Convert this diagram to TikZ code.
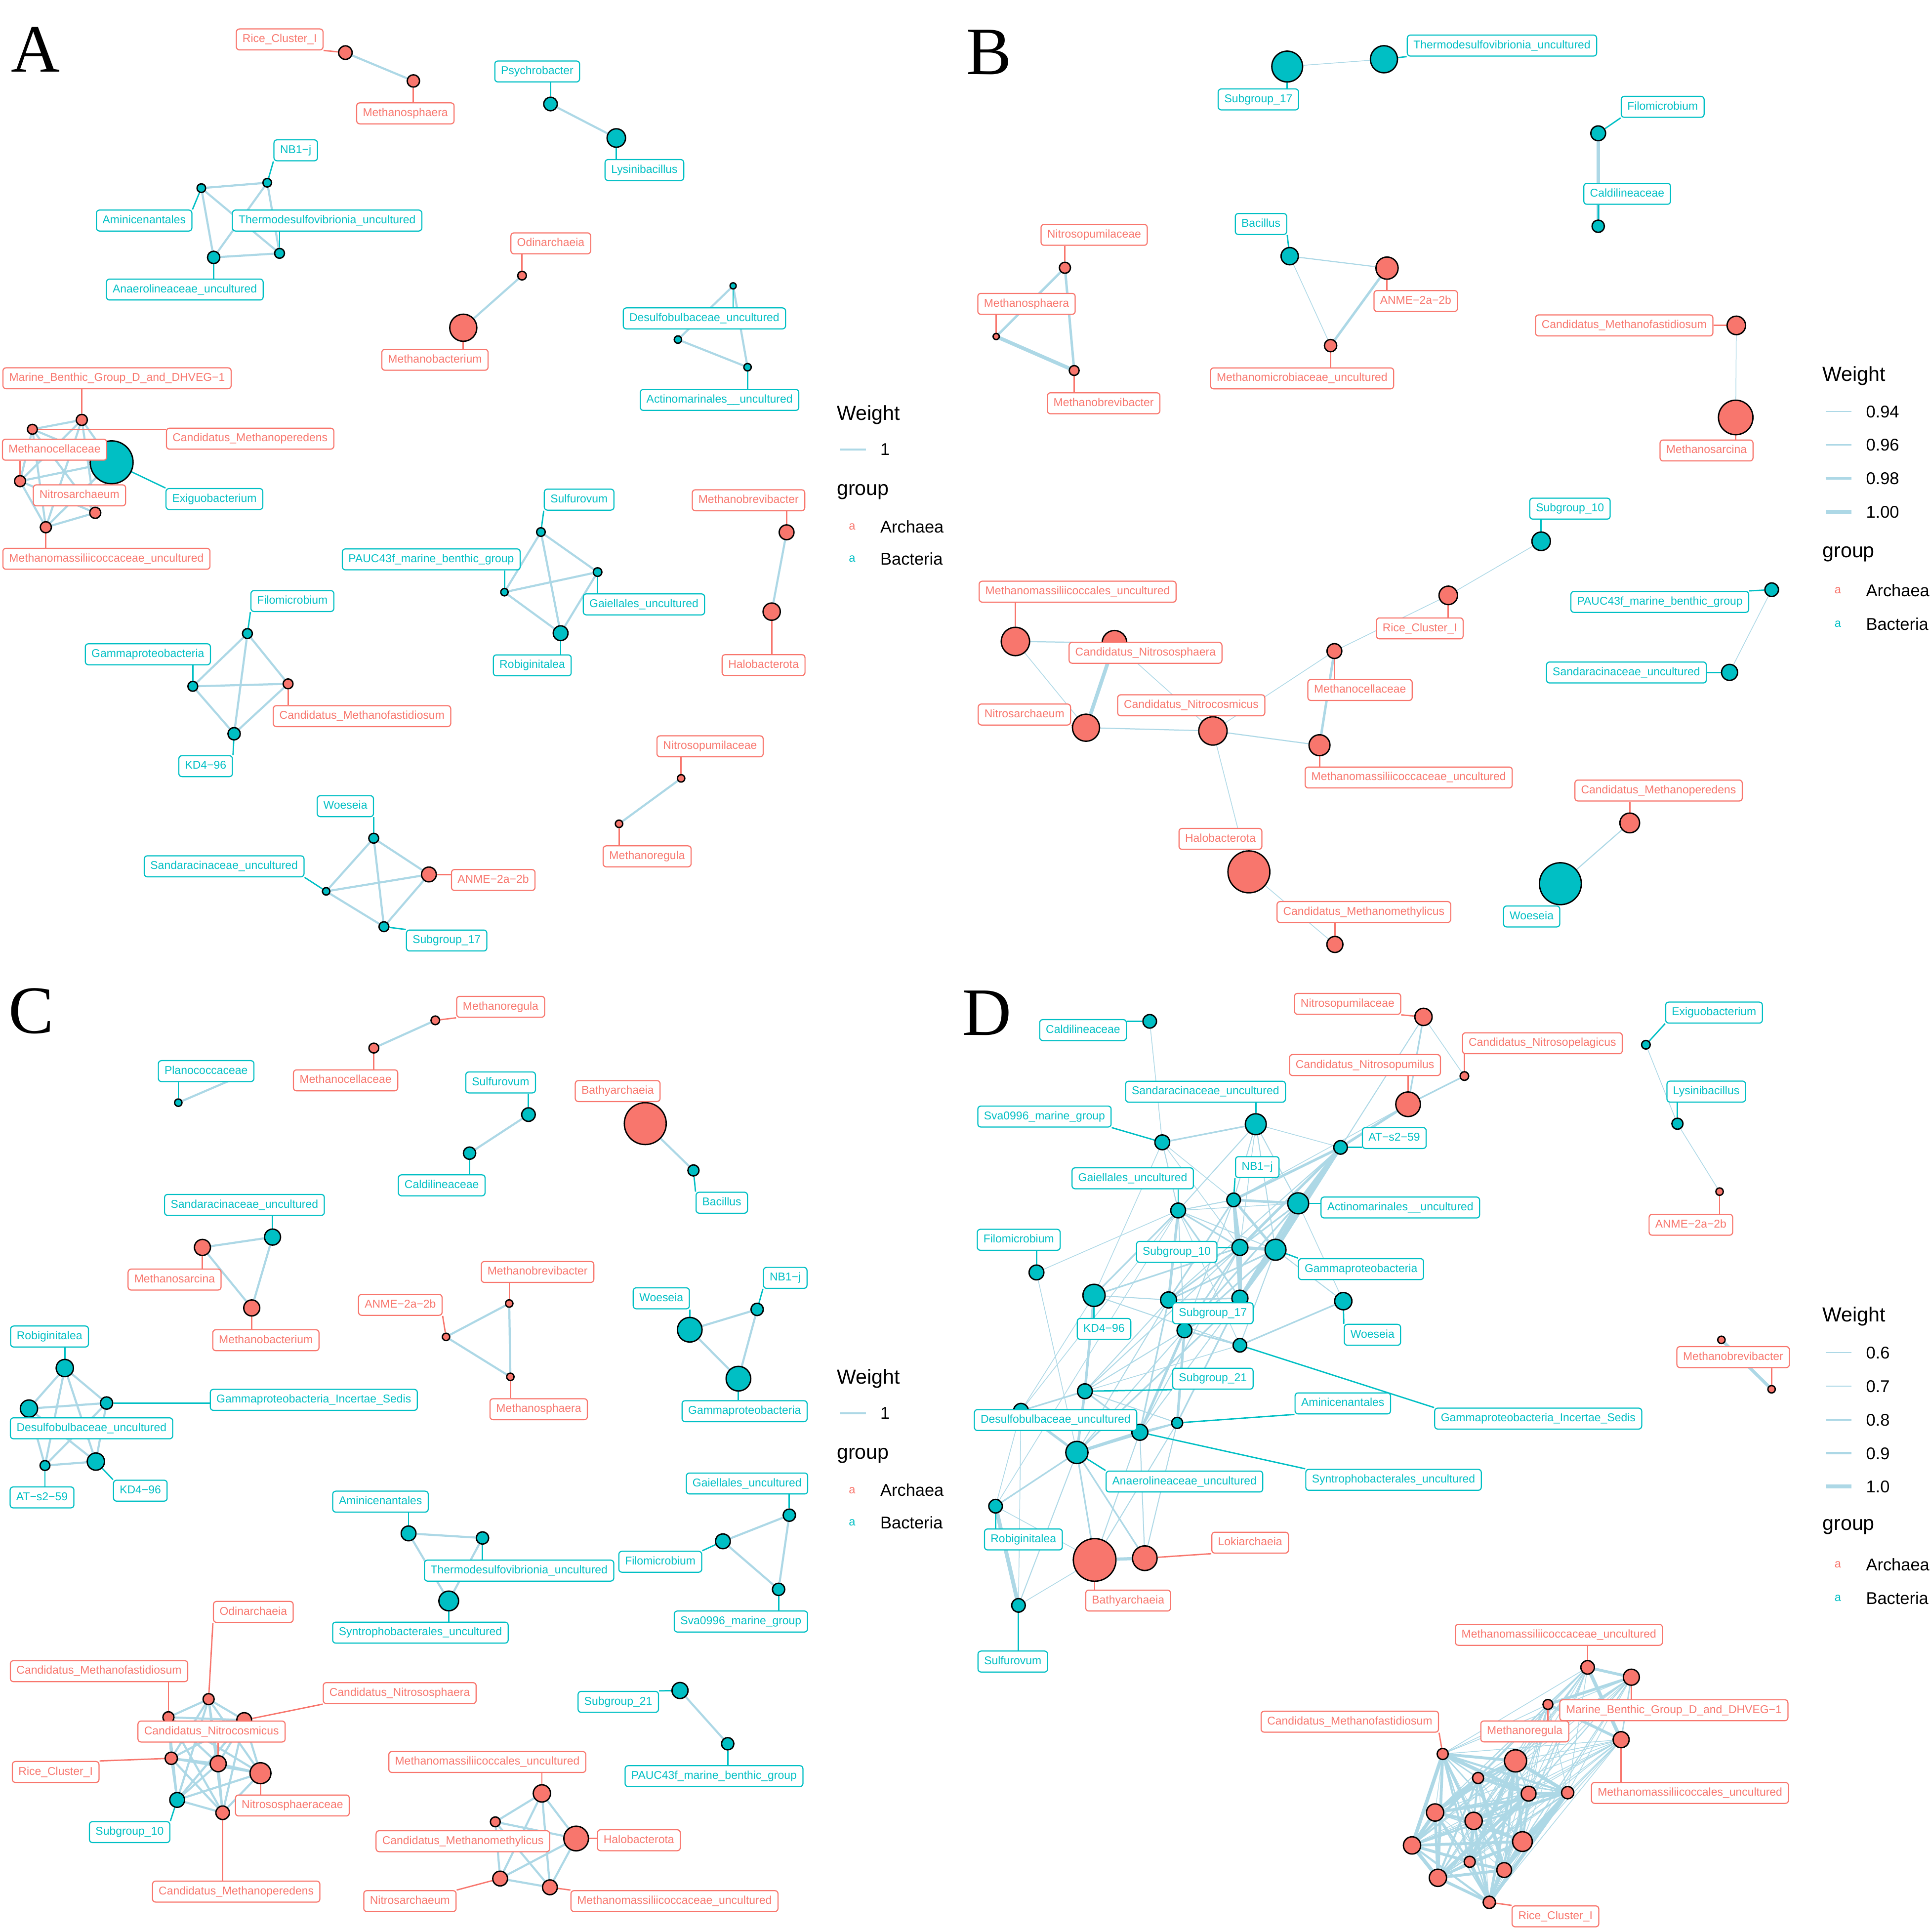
\documentclass[tikz,border=0pt]{standalone}
\usepackage{fontspec}
\setmainfont{Liberation Sans}
\newfontfamily\panelfont{Liberation Serif}
\usetikzlibrary{calc}

\definecolor{archred}{HTML}{F8766D}
\definecolor{bactteal}{HTML}{00BFC4}
\definecolor{edgeblue}{HTML}{ADD8E6}
\newcommand{\labfont}{\fontsize{9.2}{10}\selectfont}

\pgfdeclarelayer{links}
\pgfdeclarelayer{tags}
\pgfsetlayers{links,main,tags}

% every pair of a group gets a link
\newcommand{\fullmesh}[2][1.7pt]{\foreach \na [count=\i] in {#2}{\foreach \nb [count=\j] in {#2}{\ifnum\j>\i\relax\draw[link=#1] (\na) -- (\nb);\fi}}}
% label segment: from the node to the nearest point of its label box
\newcommand{\tagline}[3]{\draw[#1] let \p1=(#2.center), \p2=(#3.south west), \p3=(#3.north east), \n1={min(max(\x1,\x2),\x3)}, \n2={min(max(\y1,\y2),\y3)} in (#2) -- (\n1,\n2);}

\begin{document}
\begin{tikzpicture}[x=1pt,y=-1pt,
  anode/.style={circle,draw=black,line width=1.1pt,fill=archred,inner sep=0pt},
  bnode/.style={circle,draw=black,line width=1.1pt,fill=bactteal,inner sep=0pt},
  tag/.style={fill=white,rounded corners=2.5pt,line width=0.9pt,inner xsep=5pt,inner ysep=4.2pt,text height=6.7pt,text depth=1.9pt,font=\labfont},
  atag/.style={tag,draw=archred,text=archred},
  btag/.style={tag,draw=bactteal,text=bactteal},
  alead/.style={draw=archred,line width=1.1pt},
  blead/.style={draw=bactteal,line width=1.1pt},
  link/.style={draw=edgeblue,line width=#1},
  link/.default=1.7pt,
  legtitle/.style={anchor=base west,inner sep=0pt,font=\fontsize{16.5}{18}\selectfont},
  legtext/.style={anchor=base west,inner sep=0pt,font=\fontsize{13.8}{16}\selectfont},
  legkey/.style={anchor=base,inner sep=0pt,font=\fontsize{9.5}{10}\selectfont},
  panel/.style={anchor=base west,inner sep=0pt,font=\panelfont\fontsize{55}{60}\selectfont}]
\useasboundingbox (0,0) rectangle (1566,1568);

%% ---------------- nodes
% A
\foreach \nm/\x/\y/\r in {aRC/280.3/42.7/5.5, aMsph/335.5/65.7/5, aOdi/423.7/223.7/3.5, aMbac/376/266/11,
  aMar/66.4/340.8/4.5, aCMp/26.3/348.4/4, aMcel/16.3/390.5/4.5, aNsa/77.3/416.2/4.5, aMmc/37.2/427.9/4.5,
  aMbv/638.4/432/6, aHal/626.3/496.4/7, aCMf/233.8/555/4, aANM/348.1/709.7/6, aNtp/552.8/631.7/3, aMre/502.4/668.6/3}
  \node[anode,minimum size=2*\r pt] (\nm) at (\x,\y) {};
\foreach \nm/\x/\y/\r in {aPsy/446.8/84.4/5.5, aLys/500.2/112/7.5, aAmi/163.4/152.7/3.5, aNB/216.9/148.3/3.5,
  aAna/173.4/208.9/5, aThe/226.9/205.6/4, aDes/595/232/2.5, aDx/550.2/275.6/3, aAct/606.7/298/3,
  aExi/90.6/375.2/17.4, aSul/439/431.8/3.5, aPAU/409.4/480.6/3, aGai/485/464.3/3.5, aRob/455/513.9/6,
  aFil/200.8/514.2/4, aGam/156.5/557/4, aKD/190/595.5/5, aWoe/303.3/680.3/4, aSan/264.7/723.4/3, aS17/311.6/752.1/4}
  \node[bnode,minimum size=2*\r pt] (\nm) at (\x,\y) {};
% B
\foreach \nm/\x/\y/\r in {bNtp/864.3/217.3/4.5, bMsph/808.5/273.1/2.5, bMbv/871.8/300.7/4, bANM/1125.7/217.6/9,
  bMmb/1079.9/280.5/5, bCMf/1409.2/264.1/7.5, bMsar/1408.7/338.8/14, bRC/1175.4/483.2/7.5, bMcel/1083/528.4/6,
  bMmc/824.1/520.6/11.5, bCNs/904.5/521.7/10, bNsa/881.4/590.6/11, bCNc/984.4/593.2/11.5, bMmcc/1070.9/604.8/8.5,
  bHal/1013.6/707.6/17, bCMm/1083.4/766.5/6.5, bCMp/1322.7/667.9/8}
  \node[anode,minimum size=2*\r pt] (\nm) at (\x,\y) {};
\foreach \nm/\x/\y/\r in {bS17/1044.7/54/12.5, bThe/1123.2/48.1/11, bFil/1297.1/108.2/6, bCal/1297.1/183.6/5,
  bBac/1046.7/207.9/7, bS10/1250.8/439.3/7.5, bPAU/1437.9/478.6/5.5, bSan/1403.7/545.7/6.5, bWoe/1266.4/717.2/17}
  \node[bnode,minimum size=2*\r pt] (\nm) at (\x,\y) {};
% C
\foreach \nm/\x/\y/\r in {cMre/353.3/828.1/3.5, cMcel/303.4/850.6/4, cBat/523.7/911.9/17, cMsar/164.3/1012.4/6.5,
  cMbac/204.3/1061.5/6.5, cMbv/413.3/1057.9/3, cANM/362/1085/3, cMsph/414.2/1117.4/3, cOdi/169.3/1379/4.5,
  cCMf/136.7/1393.7/4.5, cCNs/198.2/1396/6, cRC/139/1427/5, cCNc/177.1/1431.4/6.5, cNsp/211.4/1439.1/8.5,
  cCMp/180.7/1471.2/5.5, cMmc/439.8/1455.5/7, cCMm/402/1478.6/4, cHal/467.6/1492.1/10, cNsa/405.9/1524.6/6,
  cMmcc/446.3/1531.7/6}
  \node[anode,minimum size=2*\r pt] (\nm) at (\x,\y) {};
\foreach \nm/\x/\y/\r in {cPla/144.7/894.9/3, cSul/428.9/904.6/5.5, cCal/381.1/935.9/5, cBac/562.8/949.9/4.5,
  cSan/221.2/1004/6.5, cWoe/559.8/1079.2/10, cNB/614.5/1062.7/5, cGam/599.3/1118.9/10, cRob/52.6/1110.3/7,
  cDes/23.5/1143.2/7, cGIS/86.5/1138.7/5, cAT/36.5/1189.4/4, cKD/77.8/1186.2/7, cAmi/331.6/1244.5/6,
  cThe/391.6/1248.2/5, cSyn/364.2/1299.3/8, cFil/586.7/1250.9/6, cGai/640.6/1229.7/5, cSva/631.9/1289.9/5,
  cS21/551.9/1372/6.5, cPAU/590.6/1415.2/5, cS10/143.8/1460.8/6}
  \node[bnode,minimum size=2*\r pt] (\nm) at (\x,\y) {};
\coordinate (cPlx) at (198,872);
% D
\foreach \nm/\x/\y/\r in {dNtp/1155.3/825.3/7, dCNp/1188.5/873.3/3.5, dCNu/1142.8/896.2/10, dBat/888.4/1266/17.3,
  dLok/929.1/1264.6/10, dANM/1395.6/967.1/3, dMb1/1397.1/1087.4/3, dMb2/1437.8/1127.5/3,
  dE1/1288.5/1353.2/5.5, dE2/1324/1361.2/6.5, dE3/1256.3/1383.3/4, dE4/1315.7/1411.9/6.5, dE5/1170.9/1423.5/4.5,
  dE6/1230/1429.1/9, dE7/1199.6/1443/4.5, dE8/1240.6/1455.7/6, dE9/1272.3/1454.9/5, dE10/1164.7/1471/7,
  dE11/1196/1477.8/7, dE12/1235.6/1494.6/8, dE13/1146/1497.7/7, dE14/1192.8/1511/4.5, dE15/1220.8/1517.7/6,
  dE16/1167/1524/7, dE17/1208.7/1543.9/5}
  \node[anode,minimum size=2*\r pt] (\nm) at (\x,\y) {};
\foreach \nm/\x/\y/\r in {dCal/933.1/828.9/5.5, dSan/1019.2/912.4/8.5, dSva/943.3/927.1/6, dAT/1088/931.2/5.5,
  dGai/956.2/982.4/6, dNB/1001.2/973.8/5.5, dAct/1053.6/976.6/8.5, dFil/841.2/1032.7/6, dS10/1006.3/1012.4/6.5,
  dGam/1035.2/1014.3/8.5, dKD/887.9/1051.3/9, dX1/948.4/1055/6.5, dS17/1006.3/1053.6/6.5, dX2/961.3/1079.7/6,
  dWoe/1090.2/1056/7, dGIS/1006.3/1091.8/5.5, dS21/880.5/1129.1/6, dAmi/955.4/1154.8/4.5, dDes/828.6/1145/6,
  dSyn/925.1/1162.4/6.5, dAna/874/1178.8/9, dRob/808/1222.4/5.5, dSul/826.6/1302.9/5.5, dExi/1335.8/847.9/3.5,
  dLys/1361.4/912/4.5}
  \node[bnode,minimum size=2*\r pt] (\nm) at (\x,\y) {};

%% ---------------- labels
\begin{pgfonlayer}{tags}
\foreach \nm/\x/\y/\txt in {aRCl/227/32/Rice\_Cluster\_I, aMsphl/329/92/Methanosphaera, aOdil/447/197.5/Odinarchaeia,
  aMbacl/353/292/Methanobacterium, aMarl/95/307/Marine\_Benthic\_Group\_D\_and\_DHVEG−1,
  aCMpl/203/356/Candidatus\_Methanoperedens, aMcell/44.3/365/Methanocellaceae, aNsal/64.5/402/Nitrosarchaeum,
  aMmcl/86.4/453.5/Methanomassiliicoccaceae\_uncultured, aMbvl/607.5/406/Methanobrevibacter,
  aHall/619.7/539.8/Halobacterota, aCMfl/293.8/581.2/Candidatus\_Methanofastidiosum, aANMl/400.3/714.2/ANME−2a−2b,
  aNtpl/576.3/605.7/Nitrosopumilaceae, aMrel/525.2/695/Methanoregula,
  bNtpl/888/190.6/Nitrosopumilaceae, bMsphl/833.1/246.6/Methanosphaera, bMbvl/895.7/327.3/Methanobrevibacter,
  bANMl/1149/244.3/ANME−2a−2b, bMmbl/1056.8/307.1/Methanomicrobiaceae\_uncultured,
  bCMfl/1318.2/264.1/Candidatus\_Methanofastidiosum, bMsarl/1385/365.6/Methanosarcina, bRCl/1152.3/510/Rice\_Cluster\_I,
  bMcell/1103.8/560/Methanocellaceae, bMmcl/874.6/480.2/Methanomassiliicoccales\_uncultured,
  bCNsl/929.7/529.8/Candidatus\_Nitrososphaera, bNsal/831.4/579.9/Nitrosarchaeum,
  bCNcl/966.8/572.4/Candidatus\_Nitrocosmicus, bMmccl/1143.3/631/Methanomassiliicoccaceae\_uncultured,
  bHall/990.5/680.8/Halobacterota, bCMml/1106.9/740.2/Candidatus\_Methanomethylicus,
  bCMpl/1346.1/641.6/Candidatus\_Methanoperedens,
  cMrel/406.3/817.1/Methanoregula, cMcell/280.5/876.8/Methanocellaceae, cBatl/501.3/885.5/Bathyarchaeia,
  cMsarl/141.7/1038.5/Methanosarcina, cMbacl/215.8/1087.7/Methanobacterium, cMbvl/436.3/1032.3/Methanobrevibacter,
  cANMl/324.9/1059/ANME−2a−2b, cMsphl/437.2/1143.7/Methanosphaera, cOdil/205.6/1308.2/Odinarchaeia,
  cCMfl/80.4/1356.3/Candidatus\_Methanofastidiosum, cCNsl/324.4/1374.1/Candidatus\_Nitrososphaera,
  cCNcl/171.7/1405.3/Candidatus\_Nitrocosmicus, cRCl/45.2/1438.1/Rice\_Cluster\_I, cNspl/237.3/1465.3/Nitrososphaeraceae,
  cCMpl/191.7/1535.2/Candidatus\_Methanoperedens, cMmcl/395.5/1430/Methanomassiliicoccales\_uncultured,
  cCMml/375.7/1494.3/Candidatus\_Methanomethylicus, cHall/518.5/1493.5/Halobacterota, cNsal/332.7/1542.9/Nitrosarchaeum,
  cMmccl/547.4/1542.9/Methanomassiliicoccaceae\_uncultured,
  dNtpl/1093.7/814.7/Nitrosopumilaceae, dCNpl/1251.8/846.7/Candidatus\_Nitrosopelagicus,
  dCNul/1107.8/864.4/Candidatus\_Nitrosopumilus, dBatl/915.6/1299/Bathyarchaeia, dLokl/1014.6/1252/Lokiarchaeia,
  dANMl/1372.3/994/ANME−2a−2b, dMbl/1406.6/1101.4/Methanobrevibacter,
  dE1l/1265.2/1326.8/Methanomassiliicoccaceae\_uncultured, dE2l/1358.5/1388/Marine\_Benthic\_Group\_D\_and\_DHVEG−1,
  dE5l/1095.5/1397.3/Candidatus\_Methanofastidiosum, dE3l/1237.5/1405.2/Methanoregula,
  dE4l/1371.6/1455.1/Methanomassiliicoccales\_uncultured, dE17l/1262.4/1555.3/Rice\_Cluster\_I}
  \node[atag] (\nm) at (\x,\y) {\txt};
\foreach \nm/\x/\y/\txt in {aPsyl/436/58/Psychrobacter, aLysl/523/138/Lysinibacillus, aNBl/240/122/NB1−j,
  aAmil/117/179/Aminicenantales, aThel/265.5/179/Thermodesulfovibrionia\_uncultured,
  aAnal/150/235/Anaerolineaceae\_uncultured, aDesl/571.7/258.4/Desulfobulbaceae\_uncultured,
  aActl/584/324.6/Actinomarinales\_\_uncultured, aExil/174/405/Exiguobacterium, aSull/470/405.5/Sulfurovum,
  aPAUl/350/454/PAUC43f\_marine\_benthic\_group, aGail/522.6/490.5/Gaiellales\_uncultured, aRobl/432/540/Robiginitalea,
  aFill/237.3/487.8/Filomicrobium, aGaml/120/531/Gammaproteobacteria, aKDl/166.9/621.8/KD4−96,
  aWoel/280.3/654.3/Woeseia, aSanl/181.9/703.1/Sandaracinaceae\_uncultured, aS17l/362.5/763.3/Subgroup\_17,
  bS17l/1021.3/80.7/Subgroup\_17, bThel/1219/37/Thermodesulfovibrionia\_uncultured, bFill/1349.4/86.7/Filomicrobium,
  bCall/1320.6/157.3/Caldilineaceae, bBacl/1023.4/181.8/Bacillus, bS10l/1274.2/412.8/Subgroup\_10,
  bPAUl/1347.1/488.5/PAUC43f\_marine\_benthic\_group, bSanl/1320/545.8/Sandaracinaceae\_uncultured,
  bWoel/1243.1/743.8/Woeseia,
  cPlal/167.3/869.3/Planococcaceae, cSull/406.3/878.5/Sulfurovum, cCall/358.5/962/Caldilineaceae,
  cBacl/585.8/976.1/Bacillus, cSanl/198.4/977.9/Sandaracinaceae\_uncultured, cWoel/536.7/1053.7/Woeseia,
  cNBl/637.3/1037.1/NB1−j, cGaml/604.3/1145.3/Gammaproteobacteria, cRobl/40.2/1084.7/Robiginitalea,
  cGISl/254.7/1136.1/Gammaproteobacteria\_Incertae\_Sedis, cDesl/74.3/1159.2/Desulfobulbaceae\_uncultured,
  cATl/34.1/1215.3/AT−s2−59, cKDl/113.9/1209.8/KD4−96, cAmil/308.8/1218.7/Aminicenantales,
  cThel/421.3/1274.7/Thermodesulfovibrionia\_uncultured, cSynl/341.2/1325/Syntrophobacterales\_uncultured,
  cGail/606.3/1204/Gaiellales\_uncultured, cFill/535.9/1267.5/Filomicrobium, cSval/601.3/1316/Sva0996\_marine\_group,
  cS21l/501.8/1381.2/Subgroup\_21, cPAUl/579.5/1441.5/PAUC43f\_marine\_benthic\_group, cS10l/105.2/1486.9/Subgroup\_10,
  dCall/879/836/Caldilineaceae, dSanl/978.4/886/Sandaracinaceae\_uncultured, dSval/847.7/906.2/Sva0996\_marine\_group,
  dATl/1131.6/923.6/AT−s2−59, dGail/919.3/956.3/Gaiellales\_uncultured, dNBl/1020.4/947.2/NB1−j,
  dActl/1136.5/980/Actinomarinales\_\_uncultured, dFill/826.8/1006.2/Filomicrobium, dS10l/955/1016/Subgroup\_10,
  dGaml/1104.6/1030/Gammaproteobacteria, dKDl/896/1078.5/KD4−96, dS17l/984.4/1065.8/Subgroup\_17,
  dWoel/1113.9/1083.3/Woeseia, dS21l/984.4/1118.9/Subgroup\_21, dAmil/1089.8/1139/Aminicenantales,
  dGISl/1248.4/1151.3/Gammaproteobacteria\_Incertae\_Sedis, dDesl/856.7/1152.5/Desulfobulbaceae\_uncultured,
  dSynl/1131/1201/Syntrophobacterales\_uncultured, dAnal/961.3/1202.4/Anaerolineaceae\_uncultured,
  dRobl/830.6/1249.4/Robiginitalea, dSull/822/1348.5/Sulfurovum, dExil/1391.1/821.8/Exiguobacterium,
  dLysl/1384.8/885.9/Lysinibacillus}
  \node[btag] (\nm) at (\x,\y) {\txt};
\end{pgfonlayer}

%% ---------------- links and label segments
\begin{pgfonlayer}{links}
% A
\foreach \na/\nb in {aRC/aMsph, aPsy/aLys, aOdi/aMbac, aDes/aDx, aDes/aAct, aDx/aAct, aMbv/aHal, aNtp/aMre}
  \draw[link] (\na) -- (\nb);
\fullmesh{aAmi,aNB,aAna,aThe}
\fullmesh{aMar,aCMp,aExi,aMcel,aNsa,aMmc}
\fullmesh{aSul,aPAU,aGai,aRob}
\fullmesh{aFil,aGam,aCMf,aKD}
\fullmesh{aWoe,aSan,aANM,aS17}
% B
\foreach \na/\nb/\w in {bS17/bThe/0.6pt, bFil/bCal/3pt, bNtp/bMsph/2pt, bNtp/bMbv/2pt, bMsph/bMbv/3pt,
  bBac/bANM/0.9pt, bBac/bMmb/0.6pt, bANM/bMmb/2pt, bCMf/bMsar/0.6pt, bS10/bRC/0.6pt, bRC/bMcel/0.6pt,
  bMcel/bCNc/0.6pt, bMcel/bMmcc/2pt, bMmc/bCNs/0.9pt, bMmc/bNsa/0.6pt, bCNs/bNsa/3pt, bCNs/bCNc/0.6pt,
  bNsa/bCNc/0.9pt, bCNc/bMmcc/0.9pt, bCNc/bHal/0.6pt, bHal/bCMm/0.6pt, bPAU/bSan/0.6pt, bCMp/bWoe/0.9pt}
  \draw[link=\w] (\na) -- (\nb);
% C
\foreach \na/\nb in {cMre/cMcel, cPla/cPlx, cSul/cCal, cBat/cBac, cS21/cPAU}
  \draw[link] (\na) -- (\nb);
\fullmesh{cSan,cMsar,cMbac}
\fullmesh{cMbv,cANM,cMsph}
\fullmesh{cWoe,cNB,cGam}
\fullmesh{cRob,cDes,cGIS,cAT,cKD}
\fullmesh{cAmi,cThe,cSyn}
\fullmesh{cFil,cGai,cSva}
\fullmesh{cOdi,cCMf,cCNs,cRC,cCNc,cNsp,cS10,cCMp}
\fullmesh{cMmc,cCMm,cHal,cNsa,cMmcc}
% D
\foreach \na/\nb/\w in {dCal/dSva/0.6pt, dNtp/dCNu/1.3pt, dNtp/dCNp/0.6pt, dNtp/dAT/0.8pt, dCNp/dCNu/1.3pt,
  dCNu/dAT/2.1pt, dCNu/dNB/0.6pt, dSan/dSva/1.3pt, dSan/dAT/0.6pt, dSan/dGai/0.8pt, dSan/dNB/0.8pt,
  dSan/dAct/0.8pt, dSan/dS10/0.6pt, dSan/dGam/0.8pt, dSva/dGai/0.8pt, dSva/dNB/0.6pt, dSva/dKD/0.6pt,
  dSva/dS10/0.6pt, dGai/dNB/0.8pt, dGai/dAct/0.6pt, dGai/dS10/1.3pt, dGai/dGam/0.8pt, dGai/dX1/2.1pt,
  dGai/dS17/1.3pt, dGai/dKD/1.3pt, dGai/dFil/0.6pt, dGai/dX2/0.8pt, dGai/dGIS/0.6pt, dGai/dRob/0.6pt,
  dGai/dDes/0.6pt, dNB/dAct/2.1pt, dNB/dS10/2.6pt, dNB/dGam/2.1pt, dNB/dS17/2.1pt, dNB/dAT/2.1pt,
  dNB/dX1/1.3pt, dNB/dX2/0.8pt, dAct/dAT/3.2pt, dAct/dGam/2.1pt, dAct/dS10/1.3pt, dAct/dS17/2.6pt,
  dAct/dWoe/0.6pt, dAct/dX2/1.3pt, dAT/dGam/2.6pt, dAT/dS10/2.1pt, dAT/dS17/2.1pt, dAT/dX1/0.8pt,
  dGam/dS10/2.6pt, dGam/dS17/2.6pt, dGam/dWoe/0.8pt, dGam/dX1/1.3pt, dGam/dX2/1.3pt, dGam/dGIS/0.8pt,
  dS10/dS17/3.2pt, dS10/dX1/1.3pt, dS10/dX2/1.3pt, dS10/dSyn/0.8pt, dS10/dS21/0.8pt, dS17/dX1/1.3pt,
  dS17/dX2/1.3pt, dS17/dAna/1.3pt, dS17/dSyn/0.8pt, dS17/dAmi/1.3pt, dKD/dX1/0.8pt, dKD/dS21/2.1pt,
  dKD/dS10/1.3pt, dKD/dGIS/0.8pt, dKD/dDes/0.6pt, dX1/dX2/1.3pt, dX1/dS21/0.8pt, dX1/dSyn/1.3pt,
  dX1/dAna/0.8pt, dX2/dGIS/1.3pt, dX2/dSyn/2.1pt, dX2/dAmi/2.1pt, dX2/dAna/0.8pt, dX2/dS21/0.8pt,
  dWoe/dGIS/1.3pt, dS21/dDes/1.3pt, dS21/dAna/2.1pt, dS21/dSyn/1.3pt, dS21/dGIS/0.6pt, dS21/dAmi/0.8pt,
  dSyn/dAna/2.6pt, dSyn/dAmi/1.3pt, dSyn/dBat/0.8pt, dSyn/dLok/0.8pt, dSyn/dDes/1.3pt, dAna/dDes/2.1pt,
  dAna/dRob/1.3pt, dAna/dBat/1.3pt, dAna/dSul/0.8pt, dAna/dLok/1.3pt, dAmi/dAna/1.3pt, dAmi/dLok/0.8pt,
  dAmi/dBat/0.8pt, dDes/dRob/0.6pt, dDes/dSul/0.6pt, dRob/dSul/3.2pt, dRob/dBat/0.6pt, dSul/dBat/0.6pt,
  dBat/dLok/2.6pt, dFil/dAna/0.6pt, dExi/dLys/0.6pt, dLys/dANM/0.6pt, dMb1/dMb2/2.6pt}
  \draw[link=\w] (\na) -- (\nb);
\foreach \i in {1,...,17}{\foreach \j in {1,...,17}{\ifnum\j>\i\relax
  \pgfmathsetmacro\w{(\i<5 && \j>4) ? 0.6 : 0.5+0.6*mod(\i*7+\j*3,5)}
  \draw[link=\w pt] (dE\i) -- (dE\j);\fi}}

% label segments
\foreach \lab/\nod in {aRCl/aRC, aMsphl/aMsph, aOdil/aOdi, aMbacl/aMbac, aMarl/aMar, aCMpl/aCMp, aMcell/aMcel,
  aMmcl/aMmc, aMbvl/aMbv, aHall/aHal, aCMfl/aCMf, aANMl/aANM, aNtpl/aNtp, aMrel/aMre,
  bNtpl/bNtp, bMsphl/bMsph, bMbvl/bMbv, bANMl/bANM, bMmbl/bMmb, bCMfl/bCMf, bMsarl/bMsar, bRCl/bRC,
  bMcell/bMcel, bMmcl/bMmc, bNsal/bNsa, bCNcl/bCNc, bMmccl/bMmcc, bCMml/bCMm, bCMpl/bCMp,
  cMrel/cMre, cMcell/cMcel, cBatl/cBat, cMsarl/cMsar, cMbacl/cMbac, cMbvl/cMbv, cANMl/cANM, cMsphl/cMsph,
  cOdil/cOdi, cCMfl/cCMf, cCNsl/cCNs, cRCl/cRC, cCNcl/cCNc, cNspl/cNsp, cCMpl/cCMp, cMmcl/cMmc, cHall/cHal,
  cNsal/cNsa, cMmccl/cMmcc,
  dNtpl/dNtp, dCNpl/dCNp, dCNul/dCNu, dBatl/dBat, dLokl/dLok, dANMl/dANM, dMbl/dMb2, dE1l/dE1, dE2l/dE2,
  dE5l/dE5, dE3l/dE3, dE4l/dE4, dE17l/dE17}
  {\tagline{alead}{\nod}{\lab}}
\foreach \lab/\nod in {aPsyl/aPsy, aLysl/aLys, aNBl/aNB, aAmil/aAmi, aThel/aThe, aAnal/aAna, aDesl/aDes,
  aActl/aAct, aExil/aExi, aSull/aSul, aPAUl/aPAU, aGail/aGai, aRobl/aRob, aFill/aFil, aGaml/aGam, aKDl/aKD,
  aWoel/aWoe, aSanl/aSan, aS17l/aS17,
  bS17l/bS17, bThel/bThe, bFill/bFil, bCall/bCal, bBacl/bBac, bS10l/bS10, bPAUl/bPAU, bSanl/bSan,
  cPlal/cPla, cSull/cSul, cCall/cCal, cBacl/cBac, cSanl/cSan, cWoel/cWoe, cNBl/cNB, cGaml/cGam, cRobl/cRob,
  cGISl/cGIS, cATl/cAT, cKDl/cKD, cAmil/cAmi, cThel/cThe, cSynl/cSyn, cGail/cGai, cFill/cFil, cSval/cSva,
  cS21l/cS21, cPAUl/cPAU, cS10l/cS10,
  dCall/dCal, dSanl/dSan, dSval/dSva, dATl/dAT, dGail/dGai, dNBl/dNB, dActl/dAct, dFill/dFil, dS10l/dS10,
  dGaml/dGam, dKDl/dKD, dWoel/dWoe, dS21l/dS21, dAmil/dAmi, dGISl/dGIS, dSynl/dSyn, dAnal/dAna, dRobl/dRob,
  dSull/dSul, dExil/dExi, dLysl/dLys}
  {\tagline{blead}{\nod}{\lab}}
\end{pgfonlayer}

%% ---------------- panel letters
\node[panel] (letA) at (9,58.5) {A};
\node[panel] (letB) at (784,60.5) {B};
\node[panel] (letC) at (7,838.5) {C};
\node[panel] (letD) at (781,840) {D};

%% ---------------- legends
% A and C
\foreach \dy in {0,782}{
  \node[legtitle] at (679,341+\dy) {Weight};
  \draw[link=1.6pt] (681.6,365+\dy) -- (702.7,365+\dy);
  \node[legtext] at (714.3,369.5+\dy) {1};
  \node[legtitle] at (679,402+\dy) {group};
  \node[legkey,text=archred] at (691.6,430+\dy) {a};
  \node[legtext] at (714.3,432.3+\dy) {Archaea};
  \node[legkey,text=bactteal] at (691.6,456.2+\dy) {a};
  \node[legtext] at (714.3,458.5+\dy) {Bacteria};
}
% B
\node[legtitle] at (1479,309.5) {Weight};
\foreach \ky/\w/\txt in {334/0.6pt/0.94, 361/0.9pt/0.96, 388.2/2pt/0.98, 415.3/3.1pt/1.00}{
  \draw[link=\w] (1481.6,\ky) -- (1502.7,\ky);
  \node[legtext] at (1514.3,\ky+5) {\txt};
}
\node[legtitle] at (1479,452.6) {group};
\node[legkey,text=archred] at (1491.6,481.6) {a};
\node[legtext] at (1514.3,484) {Archaea};
\node[legkey,text=bactteal] at (1491.6,508.8) {a};
\node[legtext] at (1514.3,511.2) {Bacteria};
% D
\node[legtitle] at (1479,1072.8) {Weight};
\foreach \ky/\w/\txt in {1097.8/0.6pt/0.6, 1125/0.8pt/0.7, 1152.2/1.3pt/0.8, 1179.4/2.1pt/0.9, 1206.3/3.2pt/1.0}{
  \draw[link=\w] (1481.6,\ky) -- (1502.7,\ky);
  \node[legtext] at (1514.3,\ky+5) {\txt};
}
\node[legtitle] at (1479,1241.7) {group};
\node[legkey,text=archred] at (1491.6,1272.2) {a};
\node[legtext] at (1514.3,1274.6) {Archaea};
\node[legkey,text=bactteal] at (1491.6,1299.4) {a};
\node[legtext] at (1514.3,1301.8) {Bacteria};
\end{tikzpicture}
\end{document}
